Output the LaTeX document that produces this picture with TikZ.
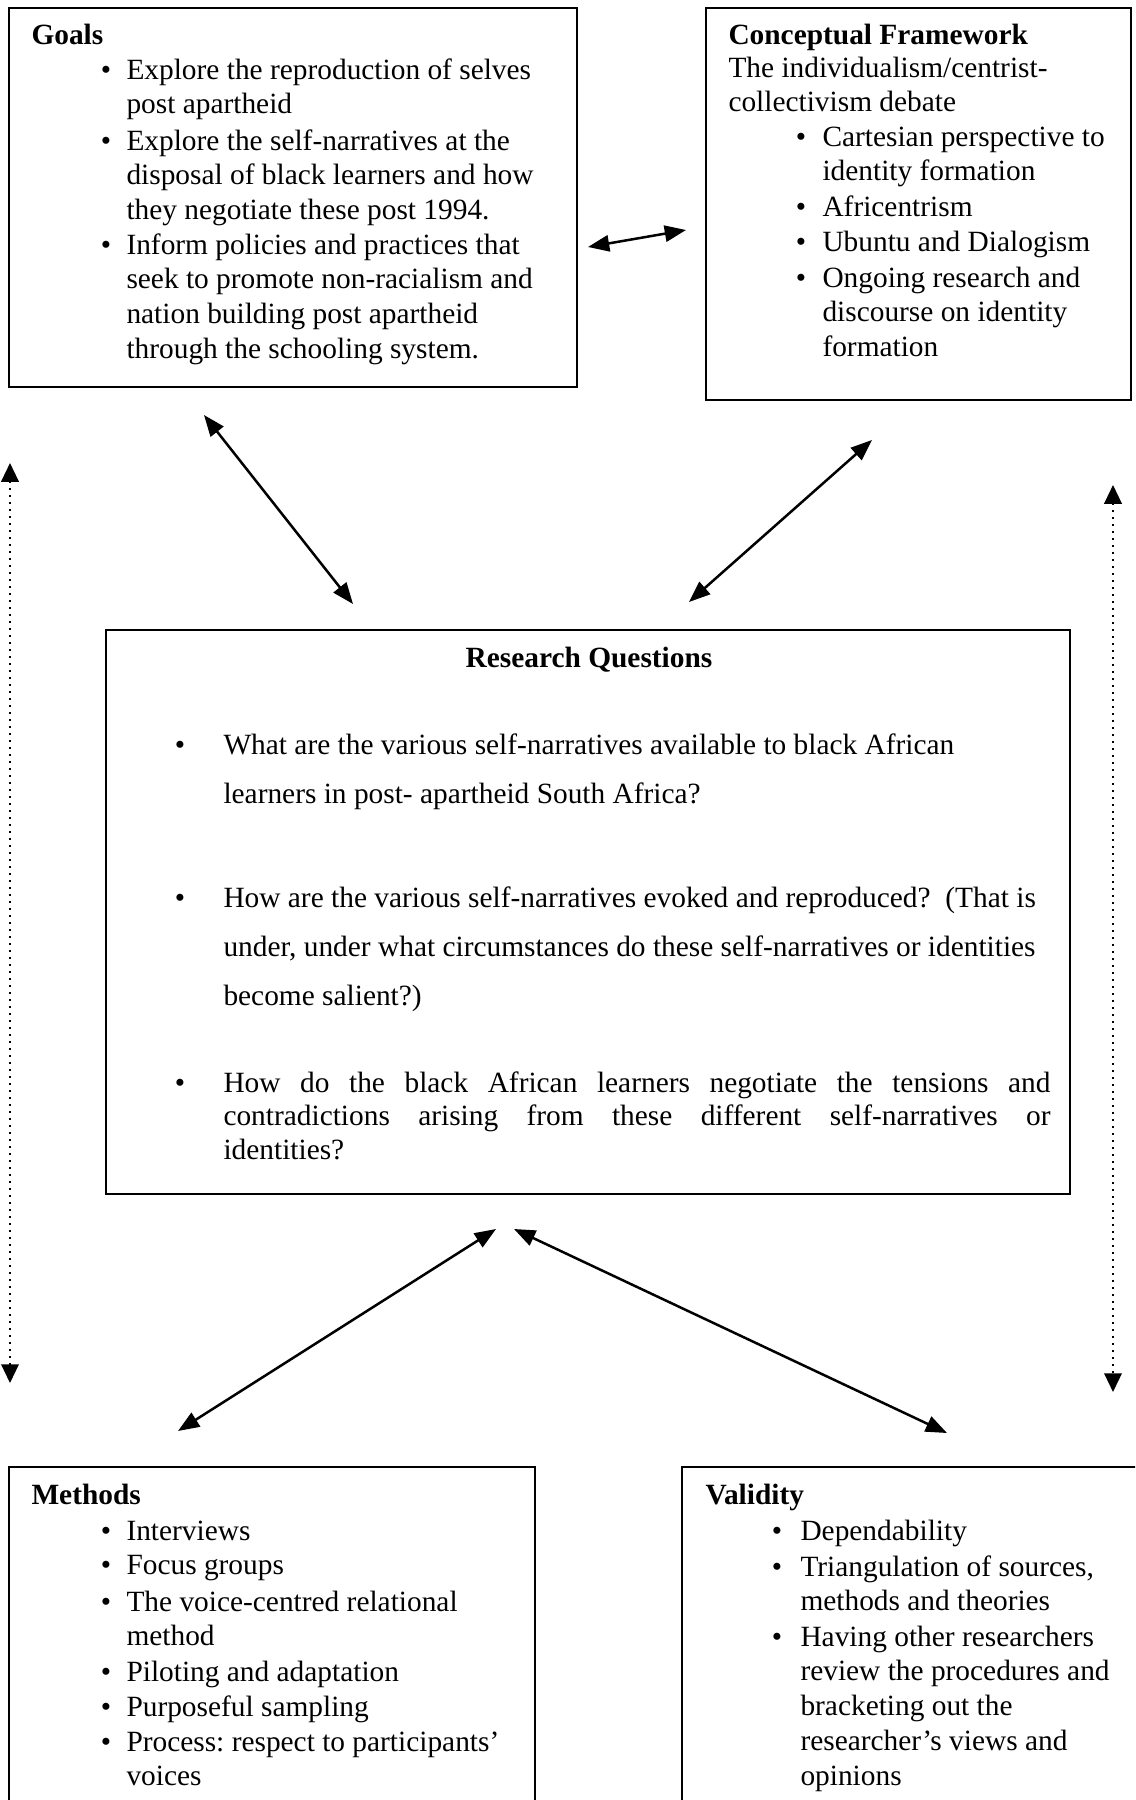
\documentclass[tikz,border=0pt]{standalone}
\usepackage{fontspec}
\setmainfont{Liberation Serif}
\usetikzlibrary{arrows.meta}
\newcommand{\rows}[1]{\begin{tabular}[t]{@{}l@{}}#1\end{tabular}}
\frenchspacing

\begin{document}
\begin{tikzpicture}[x=0.4pt, y=-0.4pt,
  >={Triangle[length=8.5pt,width=6.5pt]},
  frame/.style={draw, line width=0.7pt},
  txt/.style={anchor=base west, inner sep=0pt, font=\fontsize{11.75}{13.9}\selectfont},
  rqtxt/.style={txt, font=\fontsize{11.75}{19.7}\selectfont},
  hd/.style={anchor=base west, inner sep=0pt, font=\fontsize{11.75}{13.9}\selectfont\bfseries},
  bul/.style={anchor=base, inner sep=0pt, font=\fontsize{11.75}{13.9}\selectfont},
  link/.style={<->, line width=1pt},
  span/.style={{Triangle[length=7.5pt,width=7pt]}-{Triangle[length=7.5pt,width=7pt]}, dotted, line width=0.8pt}]
  \useasboundingbox (0,0) rectangle (1135,1800);
  \clip (0,0) rectangle (1135,1800);

  % boxes
  \draw[frame] (9,8) rectangle (577,387);
  \draw[frame] (706,8) rectangle (1131,400);
  \draw[frame] (106,630) rectangle (1070,1194);
  \draw[frame] (9,1467) rectangle (535,1830);
  \draw[frame] (682,1467) rectangle (1160,1830);

  % goals
  \node[hd] (goalsHd) at (31,44) {Goals};
  \node[bul] (gb1) at (106,79) {•};
  \node[txt] (g1) at (126,79) {\rows{Explore the reproduction of selves\\post apartheid}};
  \node[bul] (gb2) at (106,150) {•};
  \node[txt] (g2) at (126,150) {\rows{Explore the self-narratives at the\\disposal of black learners and how\\they negotiate these post 1994.}};
  \node[bul] (gb3) at (106,254) {•};
  \node[txt] (g3) at (126,254) {\rows{Inform policies and practices that\\seek to promote non-racialism and\\nation building post apartheid\\through the schooling system.}};

  % conceptual framework
  \node[hd] (cfHd) at (728,44) {Conceptual Framework};
  \node[txt] (cf0) at (728,77) {\rows{The individualism/centrist-\\collectivism debate}};
  \node[bul] (cb1) at (801,146) {•};
  \node[txt] (cf1) at (822,146) {\rows{Cartesian perspective to\\identity formation}};
  \node[bul] (cb2) at (801,216) {•};
  \node[txt] (cf2) at (822,216) {Africentrism};
  \node[bul] (cb3) at (801,251) {•};
  \node[txt] (cf3) at (822,251) {Ubuntu and Dialogism};
  \node[bul] (cb4) at (801,287) {•};
  \node[txt] (cf4) at (822,287) {\rows{Ongoing research and\\discourse on identity\\formation}};

  % research questions
  \node[hd, anchor=base] (rqHd) at (589,667) {Research Questions};
  \node[bul] (rb1) at (180,754) {•};
  \node[rqtxt] (rq1) at (223,754) {\rows{What are the various self-narratives available to black African\\learners in post- apartheid South Africa?}};
  \node[bul] (rb2) at (180,907) {•};
  \node[rqtxt] (rq2) at (223,907) {\rows{How are the various self-narratives evoked and reproduced?~ (That is\\under, under what circumstances do these self-narratives or identities\\become salient?)}};
  \node[bul] (rb3) at (180,1092) {•};
  \node[txt, font=\fontsize{11.75}{13.4}\selectfont] (rq3) at (223,1092) {\rows{\makebox[330.8pt][s]{How do the black African learners negotiate the tensions and}\\\makebox[330.8pt][s]{contradictions arising from these different self-narratives or}\\identities?}};

  % methods
  \node[hd] (mHd) at (31,1504) {Methods};
  \node[bul] (mb1) at (106,1540) {•};
  \node[txt] (m1) at (126,1540) {Interviews};
  \node[bul] (mb2) at (106,1574) {•};
  \node[txt] (m2) at (126,1574) {Focus groups};
  \node[bul] (mb3) at (106,1611) {•};
  \node[txt] (m3) at (126,1611) {\rows{The voice-centred relational\\method}};
  \node[bul] (mb4) at (106,1681) {•};
  \node[txt] (m4) at (126,1681) {Piloting and adaptation};
  \node[bul] (mb5) at (106,1716) {•};
  \node[txt] (m5) at (126,1716) {Purposeful sampling};
  \node[bul] (mb6) at (106,1751) {•};
  \node[txt] (m6) at (126,1751) {\rows{Process: respect to participants’\\voices}};

  % validity
  \node[hd] (vHd) at (705,1504) {Validity};
  \node[bul] (vb1) at (777,1540) {•};
  \node[txt] (v1) at (800,1540) {Dependability};
  \node[bul] (vb2) at (777,1576) {•};
  \node[txt] (v2) at (800,1576) {\rows{Triangulation of sources,\\methods and theories}};
  \node[bul] (vb3) at (777,1646) {•};
  \node[txt] (v3) at (800,1646) {\rows{Having other researchers\\review the procedures and\\bracketing out the\\researcher’s views and\\opinions}};

  % arrow ends
  \coordinate (gcA) at (588,247);
  \coordinate (gcB) at (686,230);
  \coordinate (grA) at (204,415);
  \coordinate (grB) at (353,604);
  \coordinate (crA) at (872,440);
  \coordinate (crB) at (689,602);
  \coordinate (rmA) at (496,1229);
  \coordinate (rmB) at (178,1431);
  \coordinate (rvA) at (514,1229);
  \coordinate (rvB) at (947,1433);
  \coordinate (lsA) at (10,463);
  \coordinate (lsB) at (10,1383);
  \coordinate (rsA) at (1113,485);
  \coordinate (rsB) at (1113,1392);

  % connectors
  \draw[link] (gcA) -- (gcB);
  \draw[link] (grA) -- (grB);
  \draw[link] (crA) -- (crB);
  \draw[link] (rmA) -- (rmB);
  \draw[link] (rvA) -- (rvB);
  \draw[span] (lsA) -- (lsB);
  \draw[span] (rsA) -- (rsB);
\end{tikzpicture}
\end{document}
